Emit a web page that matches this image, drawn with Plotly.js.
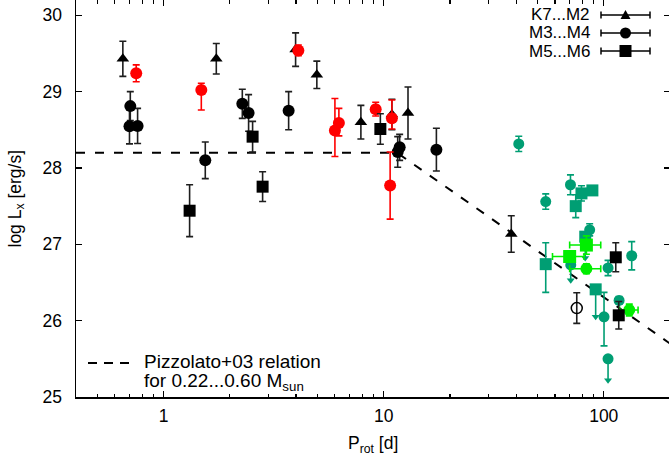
<!DOCTYPE html>
<html>
<head>
<meta charset="utf-8">
<script src="https://cdn.plot.ly/plotly-3.0.1.min.js"></script>
<style>html,body{margin:0;padding:0;overflow:hidden;background:#fff}#chart{width:670px;height:459px}</style>
</head>
<body>
<div id="chart"></div>
<script>
// ---------------- data (P_rot in days, log Lx in erg/s) ----------------
// Pizzolato+03 relation (saturated, then slope -2)
const pizP = [0.4, 11.5, 200];
const pizL = [28.2, 28.2, 25.7];

// K7...M2 (black triangles)
const k7P   = [0.653, 1.736, 3.98, 4.97, 7.88, 10.9, 12.9, 38.0];
const k7L   = [29.43, 29.43, 29.55, 29.22, 28.60, 28.70, 28.72, 27.135];
const k7Err = [0.23, 0.20, 0.22, 0.18, 0.22, 0.20, 0.34, 0.24];

// M3...M4 (black circles)
const m3P   = [0.706, 0.700, 0.762, 1.547, 2.279, 2.434, 3.70, 11.58, 11.82, 17.36];
const m3L   = [28.81, 28.545, 28.55, 28.10, 28.84, 28.72, 28.75, 28.21, 28.27, 28.24];
const m3Err = [0.19, 0.23, 0.23, 0.24, 0.19, 0.24, 0.25, 0.20, 0.17, 0.28];

// M5...M6 (black squares)
const m5P   = [1.313, 2.538, 2.818, 9.66, 113.4, 117.0];
const m5L   = [27.44, 28.41, 27.755, 28.51, 26.83, 26.07];
const m5Err = [0.34, 0.20, 0.195, 0.20, 0.19, 0.18];

// red circles
const redP     = [0.751, 1.484, 4.095, 6.005, 6.26, 9.2, 10.9, 10.7];
const redL     = [29.24, 29.02, 29.54, 28.49, 28.59, 28.77, 28.65, 27.77];
const redErrHi = [0.11, 0.09, 0.07, 0.42, 0.19, 0.09, 0.24, 0.44];
const redErrLo = [0.11, 0.26, 0.07, 0.34, 0.17, 0.09, 0.14, 0.44];

// teal circles (detections)
const tcP     = [41.1, 54.5, 70.6, 86.3, 104.6, 134.0, 100.3, 117.4];
const tcL     = [28.315, 27.56, 27.78, 27.19, 26.69, 26.85, 26.05, 26.265];
const tcErrHi = [0.10, 0.10, 0.13, 0.08, 0.10, 0.185, 0.32, 0.05];
const tcErrLo = [0.10, 0.10, 0.13, 0.08, 0.10, 0.185, 0.38, 0.05];
// teal circles (upper limits)
const tcUlP   = [104.6, 70.8];
const tcUlL   = [25.50, 26.73];
const tcUlLen = [0.28, 0.20];

// teal squares (detections)
const tsP     = [79.2, 88.8, 74.6, 54.5];
const tsL     = [27.667, 27.706, 27.50, 26.74];
const tsErrHi = [0.10, 0.03, 0.15, 0.28];
const tsErrLo = [0.10, 0.03, 0.15, 0.37];
// teal squares (upper limits)
const tsUlP   = [82.4, 91.9];
const tsUlL   = [27.10, 26.41];
const tsUlLen = [0.28, 0.36];

// bright green squares (with period errors)
const gsP    = [83.4, 70.0];
const gsL    = [26.99, 26.84];
const gsXHi  = [13.5, 11.4];
const gsXLo  = [13.4, 11.5];
const gsYErr = [0.12, 0.065];

// bright green circles (with period errors)
const gcP    = [83.4, 130.6];
const gcL    = [26.68, 26.14];
const gcXHi  = [13.5, 12.6];
const gcXLo  = [13.4, 12.4];
const gcYErr = [0.065, 0.077];

// open black circle
const ocP   = [75.4];
const ocL   = [26.165];
const ocErr = [0.20];

// tick labels
const xMajor = [1, 10, 100];
const xMajorText = ['1', '10', '100'];
const yMajor = [25, 26, 27, 28, 29, 30];
const yMajorText = ['25', '26', '27', '28', '29', '30'];

// ---------------- styling ----------------
const FONT = 'Liberation Sans, Arial, Helvetica, sans-serif';
const BLK = '#000000', BARBLK = '#1e1e1e', RED = '#ff0000', TEAL = '#009e73', GREEN = '#00ee00';

function ptTrace(P, L, hi, lo, color, symbol, size, barColor) {
  return {
    x: P, y: L, type: 'scatter', mode: 'markers', showlegend: false,
    marker: {symbol: symbol, size: size, color: color, line: {width: 0}},
    error_y: {type: 'data', symmetric: false, array: hi, arrayminus: lo,
              color: barColor || color, thickness: 1.6, width: 3.5}
  };
}
function ulTraces(P, L, len, color, symbol, size) {
  const zeros = P.map(() => 0);
  const tips = L.map((v, i) => v - len[i]);
  return [
    {x: P, y: L, type: 'scatter', mode: 'markers', showlegend: false,
     marker: {symbol: symbol, size: size, color: color},
     error_y: {type: 'data', symmetric: false, array: zeros, arrayminus: len,
               color: color, thickness: 1.6, width: 0}},
    {x: P, y: tips, type: 'scatter', mode: 'markers', showlegend: false,
     marker: {symbol: 'triangle-down', size: 7, color: color}}
  ];
}
function xyTrace(P, L, xhi, xlo, yerr, color, symbol, size) {
  const t = ptTrace(P, L, yerr, yerr, color, symbol, size);
  t.error_x = {type: 'data', symmetric: false, array: xhi, arrayminus: xlo,
               color: color, thickness: 1.6, width: 3.5};
  return t;
}

const traces = [];
traces.push({x: pizP, y: pizL, type: 'scatter', mode: 'lines', showlegend: false,
             line: {color: BLK, width: 2, dash: '9px,10px'}});
traces.push(ptTrace(k7P, k7L, k7Err, k7Err, BLK, 'triangle-up', 11, BARBLK));
traces.push(ptTrace(m3P, m3L, m3Err, m3Err, BLK, 'circle', 12, BARBLK));
traces.push(ptTrace(redP, redL, redErrHi, redErrLo, RED, 'circle', 12));
traces.push(ptTrace(tcP, tcL, tcErrHi, tcErrLo, TEAL, 'circle', 11));
traces.push(...ulTraces(tcUlP, tcUlL, tcUlLen, TEAL, 'circle', 11));
traces.push(ptTrace(tsP, tsL, tsErrHi, tsErrLo, TEAL, 'square', 12));
traces.push(...ulTraces(tsUlP, tsUlL, tsUlLen, TEAL, 'square', 12));
traces.push(xyTrace(gsP, gsL, gsXHi, gsXLo, gsYErr, GREEN, 'square', 13));
traces.push(xyTrace(gcP, gcL, gcXHi, gcXLo, gcYErr, GREEN, 'circle', 12));
traces.push(ptTrace(m5P, m5L, m5Err, m5Err, BLK, 'square', 12, BARBLK));
const oc = ptTrace(ocP, ocL, ocErr, ocErr, BLK, 'circle-open', 11, BARBLK);
oc.marker.line = {width: 1.5, color: BLK};
traces.push(oc);

// minor ticks on log axis
const xMinor = [];
[0.1, 1, 10, 100].forEach(d => { for (let k = 2; k <= 9; k++) xMinor.push(k * d); });

// ---------------- legend (drawn as layout decoration) ----------------
const plotL = 76, plotW = 594, plotH = 397;
const px = v => (v - plotL) / plotW;      // pixel -> paper x
const py = v => 1 - v / plotH;            // pixel -> paper y
const legNames = ['K7...M2', 'M3...M4', 'M5...M6'];
const legRows = [15, 33, 51];
const shapes = [], annotations = [];
legNames.forEach((n, i) => {
  const yy = py(legRows[i]);
  annotations.push({text: n, xref: 'paper', yref: 'paper', x: px(592), y: yy,
    xanchor: 'right', yanchor: 'middle', showarrow: false, font: {family: FONT, size: 17, color: BLK}});
  shapes.push({type: 'line', xref: 'paper', yref: 'paper', x0: px(601), x1: px(650), y0: yy, y1: yy,
    line: {color: BLK, width: 1.5}});
  [601, 650].forEach(xc => shapes.push({type: 'line', xref: 'paper', yref: 'paper', ysizemode: 'pixel',
    yanchor: yy, x0: px(xc), x1: px(xc), y0: -3.5, y1: 3.5, line: {color: BLK, width: 1.5}}));
  const base = {xref: 'paper', yref: 'paper', xsizemode: 'pixel', ysizemode: 'pixel',
    xanchor: px(625.5), yanchor: yy, fillcolor: BLK, line: {width: 0}};
  if (i === 0) shapes.push(Object.assign({type: 'path', path: 'M-5,-4L5,-4L0,5Z'}, base));
  if (i === 1) shapes.push(Object.assign({type: 'circle', x0: -5.5, x1: 5.5, y0: -5.5, y1: 5.5}, base));
  if (i === 2) shapes.push(Object.assign({type: 'rect', x0: -6, x1: 6, y0: -6, y1: 6}, base));
});
shapes.push({type: 'line', xref: 'paper', yref: 'paper', x0: px(88), x1: px(131), y0: py(363), y1: py(363),
  line: {color: BLK, width: 2, dash: '9px,7px'}});
annotations.push({text: 'Pizzolato+03 relation', xref: 'paper', yref: 'paper', x: px(142), y: py(361),
  xanchor: 'left', yanchor: 'middle', showarrow: false, font: {family: FONT, size: 19, color: BLK}});
annotations.push({text: 'for 0.22...0.60 M<sub>sun</sub>', xref: 'paper', yref: 'paper', x: px(142), y: py(382),
  xanchor: 'left', yanchor: 'middle', showarrow: false, font: {family: FONT, size: 19, color: BLK}});
// axis titles
annotations.push({text: 'log L<sub>x</sub> [erg/s]', xref: 'paper', yref: 'paper', x: 0, xshift: 16 - plotL,
  y: 0.5, textangle: -90, xanchor: 'center', yanchor: 'middle', showarrow: false,
  font: {family: FONT, size: 17.5, color: BLK}});
annotations.push({text: 'P<sub>rot</sub> [d]', xref: 'paper', yref: 'paper', x: 0.5, y: 0, yshift: -34,
  xanchor: 'center', yanchor: 'top', showarrow: false, font: {family: FONT, size: 17.5, color: BLK}});

const layout = {
  width: 670, height: 459,
  margin: {l: plotL, r: 0, t: 0, b: 62, pad: 0},
  paper_bgcolor: '#fff', plot_bgcolor: '#fff',
  font: {family: FONT, size: 17, color: BLK},
  showlegend: false, hovermode: false,
  xaxis: {type: 'log', range: [Math.log10(0.4), Math.log10(200)],
    tickmode: 'array', tickvals: xMajor, ticktext: xMajorText,
    ticks: 'inside', ticklen: 6, tickwidth: 1.2, tickcolor: BLK,
    minor: {tickmode: 'array', tickvals: xMinor, ticks: 'inside', ticklen: 3.5, tickwidth: 1.2, tickcolor: BLK},
    showline: true, linecolor: BLK, linewidth: 1.5, mirror: 'ticks',
    showgrid: false, zeroline: false, ticklabelstandoff: 2,
    tickfont: {family: FONT, size: 17.5, color: BLK}},
  yaxis: {range: [25, 30.2], tickmode: 'array', tickvals: yMajor, ticktext: yMajorText,
    ticks: 'inside', ticklen: 6, tickwidth: 1.2, tickcolor: BLK,
    showline: true, linecolor: BLK, linewidth: 1.5, mirror: 'ticks',
    showgrid: false, zeroline: false, ticklabelstandoff: 9,
    tickfont: {family: FONT, size: 17.5, color: BLK}},
  shapes: shapes, annotations: annotations
};
Plotly.newPlot('chart', traces, layout, {staticPlot: true, displayModeBar: false});
</script>
</body>
</html>
